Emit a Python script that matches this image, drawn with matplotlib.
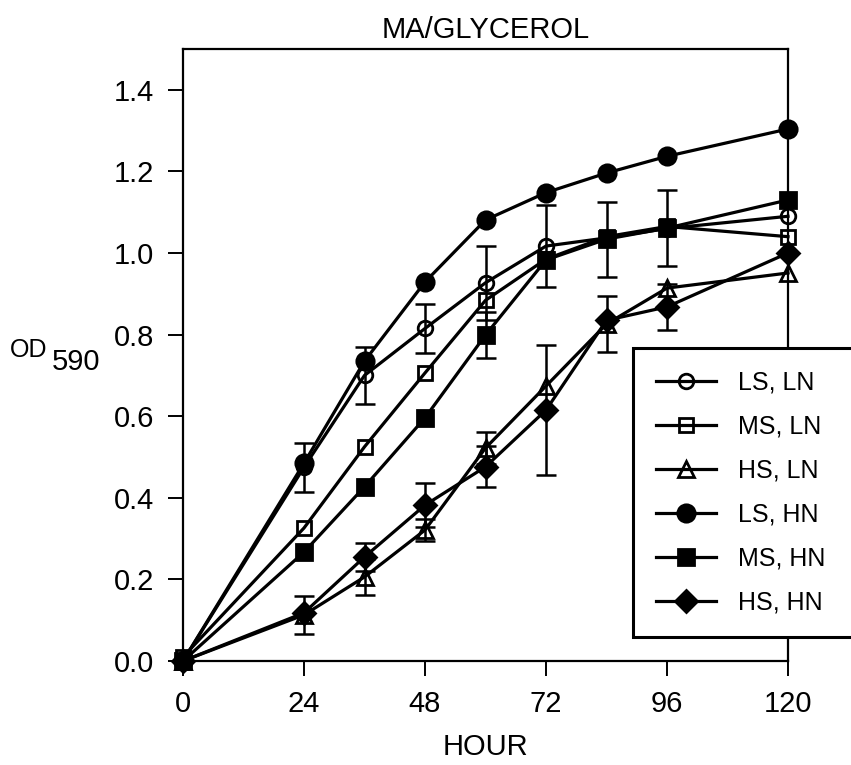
import numpy as np
import matplotlib
matplotlib.use("Agg")
import matplotlib.pyplot as plt

plt.rcParams['font.family'] = ['Liberation Sans', 'DejaVu Sans']

hours = [0, 24, 36, 48, 60, 72, 84, 96, 120]

# OD590 readings per treatment
ls_ln = [0.0, 0.475, 0.700, 0.815, 0.927, 1.017, 1.037, 1.060, 1.090]
ms_ln = [0.01, 0.326, 0.525, 0.706, 0.884, 0.985, 1.040, 1.065, 1.040]
hs_ln = [0.0, 0.113, 0.206, 0.321, 0.522, 0.674, 0.826, 0.914, 0.951]
ls_hn = [0.0, 0.485, 0.735, 0.929, 1.081, 1.148, 1.196, 1.237, 1.304]
ms_hn = [0.0, 0.267, 0.427, 0.596, 0.799, 0.983, 1.034, 1.061, 1.130]
hs_hn = [0.0, 0.118, 0.255, 0.382, 0.476, 0.615, 0.835, 0.868, 1.000]

# error bars (0 = none shown)
ls_ln_err = [0, 0.060, 0.069, 0.060, 0.090, 0.100, 0, 0, 0]
ms_hn_err = [0, 0, 0, 0, 0.057, 0, 0.092, 0.094, 0]
hs_ln_err = [0, 0.047, 0.044, 0.027, 0.039, 0, 0.069, 0, 0]
hs_hn_err = [0, 0, 0.034, 0.054, 0.050, 0.160, 0, 0.057, 0]

labels = ['LS, LN', 'MS, LN', 'HS, LN', 'LS, HN', 'MS, HN', 'HS, HN']

fig = plt.figure(figsize=(8.51, 7.65), dpi=100)
ax = fig.add_axes([183 / 851, 104 / 765, 605 / 851, 612 / 765])

lw = 2.3
series = [
    (ls_ln, 'o', 'none', 10.5),
    (ms_ln, 's', 'none', 10),
    (hs_ln, '^', 'none', 11.5),
    (ls_hn, 'o', 'black', 12.5),
    (ms_hn, 's', 'black', 11),
    (hs_hn, 'D', 'black', 11),
]
for (vals, m, fc, ms), lab in zip(series, labels):
    ax.plot(hours, vals, color='black', lw=lw, marker=m, markersize=ms,
            markerfacecolor=fc, markeredgecolor='black', markeredgewidth=2,
            label=lab, clip_on=False, zorder=3)

for vals, err in [(ls_ln, ls_ln_err), (ms_hn, ms_hn_err),
                  (hs_ln, hs_ln_err), (hs_hn, hs_hn_err)]:
    e = np.array(err)
    mask = e > 0
    ax.errorbar(np.array(hours)[mask], np.array(vals)[mask], yerr=e[mask],
                fmt='none', ecolor='black', elinewidth=1.8, capsize=7,
                capthick=1.8, zorder=2)

ax.set_xlim(0, 120)
ax.set_ylim(0, 1.5)
ax.set_xticks([0, 24, 48, 72, 96, 120])
ax.set_yticks([0.0, 0.2, 0.4, 0.6, 0.8, 1.0, 1.2, 1.4])
ax.set_yticklabels(['0.0', '0.2', '0.4', '0.6', '0.8', '1.0', '1.2', '1.4'])
ax.tick_params(direction='out', length=11, width=1.4, labelsize=21, pad=10)
for sp in ax.spines.values():
    sp.set_linewidth(1.6)

ax.set_title('MA/GLYCEROL', fontsize=21, pad=8)
fig.text(485 / 851, 1 - 747 / 765, 'HOUR', fontsize=21, ha='center', va='center')
fig.text(10 / 851, 1 - 350 / 765, 'OD', fontsize=18, ha='left', va='center')
fig.text(52 / 851, 1 - 362 / 765, '590', fontsize=21, ha='left', va='center')

leg = ax.legend(loc='upper left', bbox_to_anchor=(633 / 851, 0.545 - 0.45, 0.3, 0.45),
                bbox_transform=fig.transFigure, mode='expand', fontsize=18,
                frameon=True, fancybox=False, edgecolor='black', borderaxespad=0,
                handlelength=2.4, handletextpad=0.9, labelspacing=0.8,
                borderpad=0.9, numpoints=1)
leg.get_frame().set_linewidth(2.2)
leg.get_frame().set_alpha(1)

fig.savefig('out.png', dpi=100)
